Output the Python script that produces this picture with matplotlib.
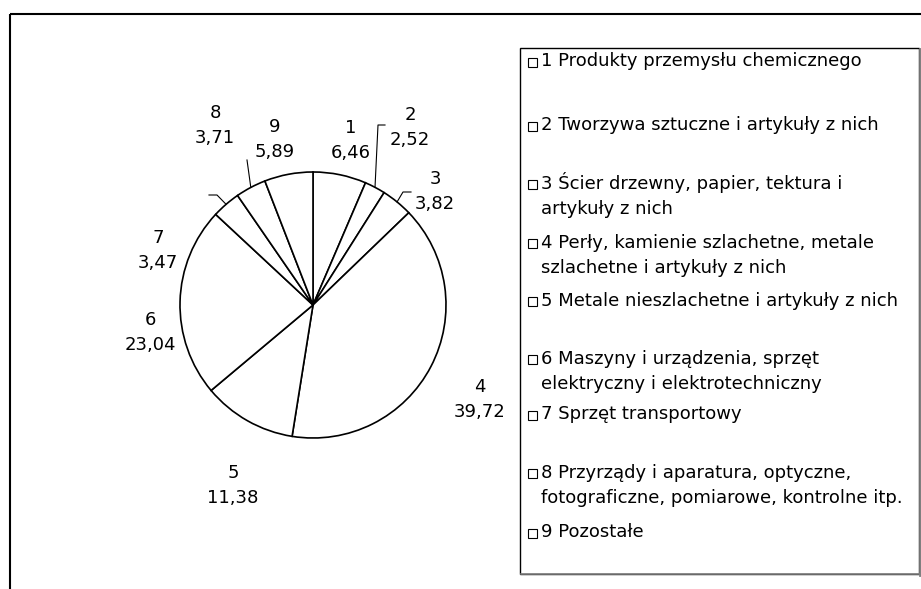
import matplotlib
matplotlib.use("Agg")
import matplotlib.pyplot as plt
import numpy as np
from matplotlib.patches import Rectangle

plt.rcParams['font.family'] = ['DejaVu Sans']

numbers = ["1", "2", "3", "4", "5", "6", "7", "8", "9"]
values = [6.46, 2.52, 3.82, 39.72, 11.38, 23.04, 3.47, 3.71, 5.89]
value_labels = ["6,46", "2,52", "3,82", "39,72", "11,38", "23,04", "3,47", "3,71", "5,89"]
legend_labels = [
    "1 Produkty przemysłu chemicznego",
    "2 Tworzywa sztuczne i artykuły z nich",
    "3 Ścier drzewny, papier, tektura i\nartykuły z nich",
    "4 Perły, kamienie szlachetne, metale\nszlachetne i artykuły z nich",
    "5 Metale nieszlachetne i artykuły z nich",
    "6 Maszyny i urządzenia, sprzęt\nelektryczny i elektrotechniczny",
    "7 Sprzęt transportowy",
    "8 Przyrządy i aparatura, optyczne,\nfotograficzne, pomiarowe, kontrolne itp.",
    "9 Pozostałe",
]

W, H = 921, 589
FS = 13
CAP = 0.729 * FS * 100 / 72  # cap height in px
fig = plt.figure(figsize=(W / 100, H / 100), dpi=100)
ax = fig.add_axes([0, 0, 1, 1])
ax.set_xlim(0, W)
ax.set_ylim(0, H)
ax.set_aspect('equal')
ax.axis('off')

def Y(ypx):
    return H - ypx

def T(x, ycap, s, ha):
    # ycap: pixel y of cap-height centre
    ax.text(x, Y(ycap + CAP / 2), s, ha=ha, va='baseline', fontsize=FS)

# outer frame (top, left, right beyond image)
ax.plot([9.5, W + 5], [Y(14), Y(14)], color='black', lw=1.5, solid_capstyle='butt')
ax.plot([9.5, 9.5], [Y(14), -5], color='black', lw=1.5, solid_capstyle='butt')

# pie
cx, cy, R = 313, Y(305), 133
wedges, _ = ax.pie(values, startangle=90, counterclock=False, center=(cx, cy), radius=R,
                   colors=['white'] * len(values),
                   wedgeprops=dict(edgecolor='black', linewidth=1.2))
ax.set_xlim(0, W)
ax.set_ylim(0, H)

# label layout (pixel positions of number-line centres)
label_pos = [(351, 126), (410, 113), (435, 177.5), (480, 385), (233, 471),
             (150, 318), (158, 236), (215, 111), (275, 125)]
for i, w in enumerate(wedges):
    lx, ly = label_pos[i]
    T(lx, ly, numbers[i], 'center')
    T(lx, ly + 25, value_labels[i], 'center')

def edge_point(i):
    w = wedges[i]
    a = np.deg2rad((w.theta1 + w.theta2) / 2)
    return cx + R * np.cos(a), cy + R * np.sin(a)

# leader lines
lk = dict(color='black', lw=0.8)
x0, y0 = edge_point(1)
ax.plot([x0, 378, 385], [y0, Y(125), Y(125)], **lk)
x0, y0 = edge_point(2)
ax.plot([x0, 403, 411], [y0, Y(192), Y(192)], **lk)
x0, y0 = edge_point(6)
ax.plot([x0, 217, 209], [y0, Y(195), Y(195)], **lk)
x0, y0 = edge_point(7)
ax.plot([x0, 247], [y0, Y(160)], **lk)

# legend box
lx0, ly0, lx1, ly1 = 519.5, 47.5, 919, 573.5
ax.add_patch(Rectangle((lx0, Y(ly1)), lx1 - lx0, ly1 - ly0, fill=False,
                       edgecolor='black', lw=1.0))
ax.plot([lx1 + 0.5, lx1 + 0.5], [Y(ly0 + 1), Y(ly1 + 1)], color='#808080', lw=2)
ax.plot([lx0 + 1, lx1 + 1], [Y(ly1 + 0.8), Y(ly1 + 0.8)], color='#808080', lw=1.2)

legend_y = [59.5, 123.5, 182, 241, 299, 357, 412.5, 471, 530.5]
for i, lab in enumerate(legend_labels):
    yy = legend_y[i]
    ax.add_patch(Rectangle((527.5, Y(yy + 7)), 9, 9, fill=False, edgecolor='black', lw=0.8))
    for j, ln in enumerate(lab.split("\n")):
        T(541, yy + j * 25, ln, 'left')

fig.savefig("out.png", dpi=100, facecolor='white')
